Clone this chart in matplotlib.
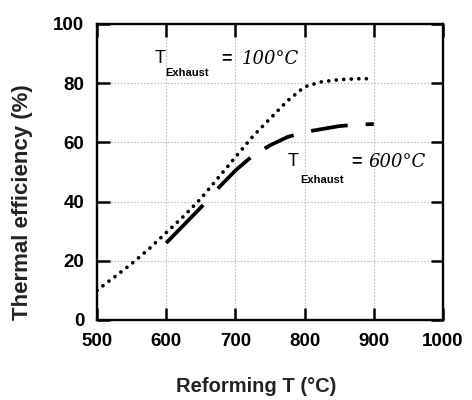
import matplotlib
matplotlib.use("Agg")
import matplotlib.pyplot as plt

# Data
reform_T = [500, 525, 550, 575, 600, 625, 650, 675, 700, 725, 750, 775, 800, 825, 850, 875, 900]
eff_exh100 = [10, 14.5, 19, 24, 29.5, 35, 41, 48, 55, 62, 68, 74, 78.8, 80.5, 81.2, 81.5, 81.5]
reform_T600 = [600, 625, 650, 675, 700, 725, 750, 775, 800, 825, 850, 875, 900]
eff_exh600 = [26, 32, 38, 44.5, 50.5, 55.5, 59, 61.8, 63.5, 64.5, 65.5, 66, 66.2]
xticks = [500, 600, 700, 800, 900, 1000]
yticks = [0, 20, 40, 60, 80, 100]

plt.rcParams['font.family'] = ['Liberation Sans', 'DejaVu Sans']

fig = plt.figure(figsize=(4.72, 4.0), dpi=100)
ax = fig.add_axes([97/472, 80/400, 346/472, 296/400])

px2pt = 72/100
lw_dot = 2.7
lw_dash = 2.7
dot_gap = 7.5*px2pt/lw_dot
ax.plot(reform_T, eff_exh100, color='black', lw=lw_dot,
        ls=(0, (0.01, dot_gap)), dash_capstyle='round')
dash_px = [53, 22, 45, 17, 32, 18, 37, 18, 40, 20]
dash_seq = tuple(d*px2pt/lw_dash for d in dash_px)
ax.plot(reform_T600, eff_exh600, color='black', lw=lw_dash,
        ls=(0, dash_seq), dash_capstyle='butt')

ax.set_xlim(500, 1000)
ax.set_ylim(0, 100)
ax.set_xticks(xticks)
ax.set_yticks(yticks)
ax.grid(True, color='#bdbdbd', lw=0.8, ls=(0, (1.5, 1.5)))
ax.set_axisbelow(True)
ax.tick_params(direction='in', length=9, width=1.8, top=True, right=True,
               labelsize=13.5, pad=9)
for lab in ax.get_xticklabels() + ax.get_yticklabels():
    lab.set_fontweight('bold')
for s in ax.spines.values():
    s.set_linewidth(1.7)

fig.text(23/472, 1-202/400, 'Thermal efficiency (%)', rotation=90,
         ha='center', va='center', fontsize=16, fontweight='bold', color='#222222')
fig.text(256/472, 1-386/400, 'Reforming T (\u00b0C)', ha='center', va='center',
         fontsize=14.5, fontweight='bold', color='#222222')

# annotations
ax.text(583, 88.3, 'T', fontsize=13, ha='left', va='center')
ax.text(598, 83.6, 'Exhaust', fontsize=8, ha='left', va='center', fontweight='bold')
ax.text(680, 88.3, '=', fontsize=13, ha='left', va='center', fontweight='bold')
ax.text(709, 88.3, '100\u00b0C', fontsize=13, ha='left', va='center',
        family='DejaVu Serif', style='italic')
ax.text(776, 53.5, 'T', fontsize=13, ha='left', va='center')
ax.text(793, 47.3, 'Exhaust', fontsize=8, ha='left', va='center', fontweight='bold')
ax.text(868, 53.5, '=', fontsize=13, ha='left', va='center', fontweight='bold')
ax.text(893, 53.5, '600\u00b0C', fontsize=13, ha='left', va='center',
        family='DejaVu Serif', style='italic')

fig.savefig('out.png', dpi=100)
